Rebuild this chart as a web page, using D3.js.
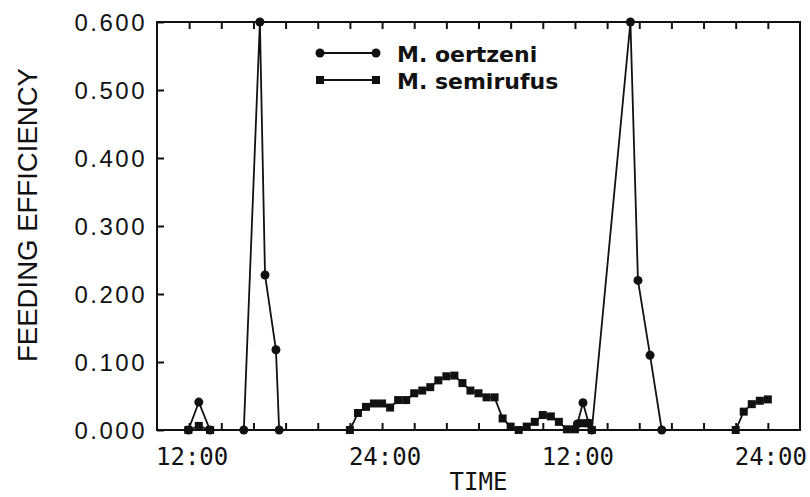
<!DOCTYPE html>
<html>
<head>
<meta charset="utf-8">
<script src="https://cdn.jsdelivr.net/npm/d3@7"></script>
<style>
  html, body { margin: 0; padding: 0; background: #fff; }
  svg { display: block; }
</style>
</head>
<body>
<svg id="chart" width="810" height="497"></svg>
<script>
// Hours on a continuous clock (12 = noon of day 1, 24 = midnight, 36 = noon of day 2, 48 = midnight).
// A null value marks a break in the line (no samples plotted in between).
const oertzeniTime  = [11.95, 12.6, 13.3, 15.4, 16.4, 16.72, 17.4, 17.6, 27.0, 36.15, 36.5, 36.85, 37.05, 39.45, 39.92, 40.67, 41.4];
const oertzeniValue = [0, 0.041, 0, 0, 0.600, 0.228, 0.118, 0, null, 0.009, 0.040, 0.010, 0, 0.600, 0.220, 0.110, 0];

const semirufusTime = [11.95, 12.6, 13.3,
  22.0, 22.5, 23.0, 23.5, 24.0, 24.5, 25.0, 25.5, 26.0, 26.5, 27.0, 27.5, 28.0, 28.5,
  29.0, 29.5, 30.0, 30.5, 31.0, 31.5, 32.0, 32.5, 33.0, 33.5, 34.0, 34.5, 35.0, 35.5, 36.0,
  36.4, 36.8, 37.05,
  46.0, 46.5, 47.0, 47.5, 48.0];
const semirufusValue = [0, 0.006, 0,
  0, 0.025, 0.034, 0.039, 0.039, 0.033, 0.044, 0.044, 0.054, 0.058, 0.063, 0.073, 0.079, 0.080,
  0.069, 0.058, 0.054, 0.048, 0.048, 0.017, 0.005, 0, 0.005, 0.012, 0.022, 0.020, 0.012, 0.001, 0.001,
  0.010, 0.010, 0,
  0, 0.027, 0.038, 0.043, 0.045];

const yTicks = [0, 0.1, 0.2, 0.3, 0.4, 0.5, 0.6];
const xMinorTicks = [12, 14, 16, 18, 20, 22, 24, 26, 28, 30, 32, 34, 36, 38, 40, 42, 44, 46, 48];
const xMajorTicks = [12, 24, 36, 48];
const xMajorLabels = ["12:00", "24:00", "12:00", "24:00"];
const seriesNames = ["M. oertzeni", "M. semirufus"];

const ink = "#111";
const svg = d3.select("#chart");

const plotLeft = 157, plotRight = 800, plotTop = 22, plotBottom = 430;
const x = d3.scaleLinear().domain([10, 50]).range([plotLeft, plotRight]);
const y = d3.scaleLinear().domain([0, 0.6]).range([plotBottom, plotTop]);

// Frame
svg.append("rect")
  .attr("x", plotLeft).attr("y", plotTop)
  .attr("width", plotRight - plotLeft).attr("height", plotBottom - plotTop)
  .attr("fill", "none").attr("stroke", ink).attr("stroke-width", 2);

// Inward ticks on bottom, top and left
const gBottom = svg.append("g").attr("transform", `translate(0,${plotBottom})`)
  .call(d3.axisBottom(x).tickValues(xMinorTicks).tickSize(-7).tickFormat(""));
const gTop = svg.append("g").attr("transform", `translate(0,${plotTop})`)
  .call(d3.axisTop(x).tickValues(xMinorTicks).tickSize(-7).tickFormat(""));
const gLeft = svg.append("g").attr("transform", `translate(${plotLeft},0)`)
  .call(d3.axisLeft(y).tickValues(yTicks).tickSize(-7).tickFormat(""));
[gBottom, gTop, gLeft].forEach(g => {
  g.select(".domain").remove();
  g.selectAll(".tick line").attr("stroke", ink).attr("stroke-width", 2);
});

// Y tick labels
svg.append("g").selectAll("text")
  .data(yTicks).join("text")
  .attr("x", 147).attr("y", d => y(d)).attr("dy", "0.36em")
  .attr("text-anchor", "end")
  .attr("font-family", "'Liberation Sans', Arial, sans-serif")
  .attr("font-size", 24).attr("letter-spacing", 2.5)
  .attr("fill", ink)
  .text(d3.format(".3f"));

// X tick labels
svg.append("g").selectAll("text")
  .data(xMajorTicks).join("text")
  .attr("x", d => x(d) + 3).attr("y", 465)
  .attr("text-anchor", "middle")
  .attr("font-family", "'DejaVu Sans Mono', monospace")
  .attr("font-size", 24)
  .attr("fill", ink)
  .text((d, i) => xMajorLabels[i]);

// Axis titles
svg.append("text")
  .attr("x", (plotLeft + plotRight) / 2).attr("y", 490)
  .attr("text-anchor", "middle")
  .attr("font-family", "'DejaVu Sans Mono', monospace")
  .attr("font-size", 24)
  .attr("fill", ink)
  .text("TIME");

svg.append("text")
  .attr("transform", "translate(37,215) rotate(-90)")
  .attr("text-anchor", "middle")
  .attr("font-family", "'Liberation Sans', Arial, sans-serif")
  .attr("font-size", 28)
  .attr("textLength", 294).attr("lengthAdjust", "spacingAndGlyphs")
  .attr("fill", ink)
  .text("FEEDING EFFICIENCY");

// Series
const line = d3.line()
  .defined(d => d[1] !== null)
  .x(d => x(d[0])).y(d => y(d[1]));
const oertzeni = oertzeniTime.map((t, i) => [t, oertzeniValue[i]]);
const semirufus = semirufusTime.map((t, i) => [t, semirufusValue[i]]);

svg.append("path").datum(semirufus)
  .attr("d", line).attr("fill", "none").attr("stroke", ink).attr("stroke-width", 1.8);
svg.append("path").datum(oertzeni)
  .attr("d", line).attr("fill", "none").attr("stroke", ink).attr("stroke-width", 1.8);

const sq = 8;
svg.append("g").selectAll("rect")
  .data(semirufus).join("rect")
  .attr("x", d => x(d[0]) - sq / 2).attr("y", d => y(d[1]) - sq / 2)
  .attr("width", sq).attr("height", sq).attr("fill", ink);

svg.append("g").selectAll("circle")
  .data(oertzeni.filter(d => d[1] !== null)).join("circle")
  .attr("cx", d => x(d[0])).attr("cy", d => y(d[1])).attr("r", 4.5).attr("fill", ink);

// Legend
const legend = svg.append("g");
const rows = [{ name: seriesNames[0], y: 53, shape: "circle" }, { name: seriesNames[1], y: 80, shape: "square" }];
rows.forEach(r => {
  legend.append("line").attr("x1", 320).attr("x2", 376).attr("y1", r.y).attr("y2", r.y)
    .attr("stroke", ink).attr("stroke-width", 1.8);
  [320, 376].forEach(cx => {
    if (r.shape === "circle") {
      legend.append("circle").attr("cx", cx).attr("cy", r.y).attr("r", 4.5).attr("fill", ink);
    } else {
      legend.append("rect").attr("x", cx - sq / 2).attr("y", r.y - sq / 2)
        .attr("width", sq).attr("height", sq).attr("fill", ink);
    }
  });
  legend.append("text").attr("x", 397).attr("y", r.y + 9)
    .attr("font-family", "'DejaVu Sans', sans-serif").attr("font-weight", "bold")
    .attr("font-size", 22).attr("fill", ink)
    .text(r.name);
});
</script>
</body>
</html>
